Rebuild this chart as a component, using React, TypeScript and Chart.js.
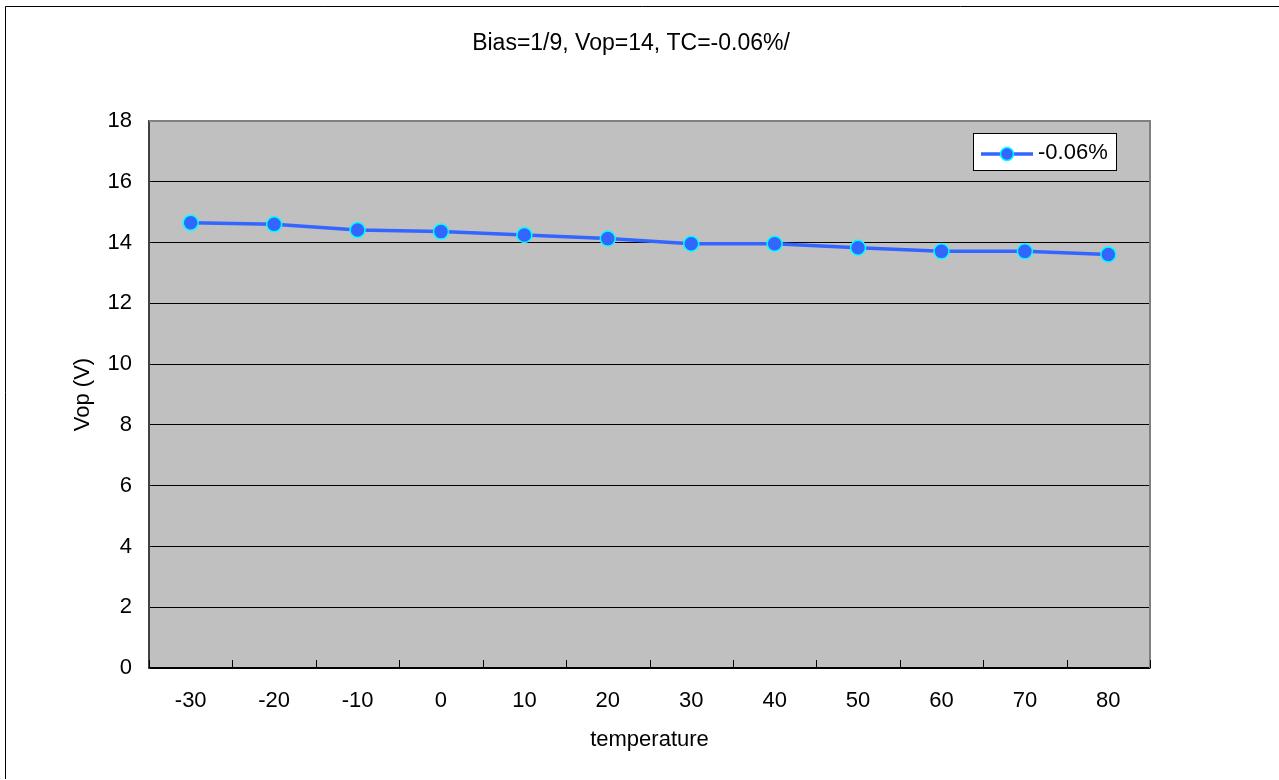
import React, { useEffect, useRef } from "react";
import { Chart, registerables } from "chart.js";

Chart.register(...registerables);

const categories = ["-30", "-20", "-10", "0", "10", "20", "30", "40", "50", "60", "70", "80"];
const vopValues = [14.65, 14.6, 14.41, 14.36, 14.25, 14.13, 13.96, 13.96, 13.83, 13.71, 13.71, 13.61];
const seriesLabel = "-0.06%";
const chartTitle = "Bias=1/9, Vop=14, TC=-0.06%/";
const yTitle = "Vop (V)";
const xTitle = "temperature";

const FONT = "'Liberation Sans', Arial, sans-serif";
const LINE = "#3366FF";
const EDGE = "#00FFFF";

const decorPlugin = {
  id: "decor",
  beforeDraw(chart: any) {
    const { ctx, chartArea } = chart;
    const { left, top, right, bottom } = chartArea;
    ctx.save();
    ctx.fillStyle = "#FFFFFF";
    ctx.fillRect(0, 0, chart.width, chart.height);
    ctx.fillStyle = "#C0C0C0";
    ctx.fillRect(left, top, right - left, bottom - top);
    ctx.strokeStyle = "#000000";
    ctx.lineWidth = 1;
    ctx.beginPath();
    ctx.moveTo(5.5, 779);
    ctx.lineTo(5.5, 6.5);
    ctx.lineTo(1279, 6.5);
    ctx.stroke();
    ctx.restore();
  },
  afterDraw(chart: any) {
    const { ctx, chartArea } = chart;
    const { left, top, right, bottom } = chartArea;
    ctx.save();
    ctx.strokeStyle = "#808080";
    ctx.lineWidth = 2;
    ctx.beginPath();
    ctx.moveTo(left, top);
    ctx.lineTo(right, top);
    ctx.lineTo(right, bottom);
    ctx.stroke();
    ctx.strokeStyle = "#000000";
    ctx.lineWidth = 1;
    const n = categories.length;
    for (let i = 0; i <= n; i++) {
      const x = Math.round(left + (i * (right - left)) / n) + 0.5;
      ctx.beginPath();
      ctx.moveTo(x, bottom);
      ctx.lineTo(x, bottom - 8);
      ctx.stroke();
    }
    ctx.fillStyle = "#000000";
    ctx.font = `23px ${FONT}`;
    ctx.textAlign = "center";
    ctx.textBaseline = "alphabetic";
    ctx.fillText(chartTitle, 631, 50);
    ctx.font = `22px ${FONT}`;
    ctx.textBaseline = "middle";
    ctx.fillText(xTitle, (left + right) / 2, 740);
    ctx.save();
    ctx.translate(83, (top + bottom) / 2);
    ctx.rotate(-Math.PI / 2);
    ctx.fillText(yTitle, 0, 0);
    ctx.restore();
    const lx = 973.5, ly = 133.5, lw = 143, lh = 37;
    ctx.fillStyle = "#FFFFFF";
    ctx.fillRect(lx, ly, lw, lh);
    ctx.strokeStyle = "#000000";
    ctx.lineWidth = 1;
    ctx.strokeRect(lx, ly, lw, lh);
    ctx.strokeStyle = LINE;
    ctx.lineWidth = 3.5;
    ctx.beginPath();
    ctx.moveTo(981, 154);
    ctx.lineTo(1033, 154);
    ctx.stroke();
    ctx.beginPath();
    ctx.arc(1007, 154, 6.5, 0, Math.PI * 2);
    ctx.fillStyle = LINE;
    ctx.fill();
    ctx.strokeStyle = EDGE;
    ctx.lineWidth = 1.5;
    ctx.stroke();
    ctx.fillStyle = "#000000";
    ctx.font = `22px ${FONT}`;
    ctx.textAlign = "left";
    ctx.textBaseline = "middle";
    ctx.fillText(seriesLabel, 1038, 153);
    ctx.restore();
  },
};

export default function App() {
  const ref = useRef<HTMLCanvasElement | null>(null);
  useEffect(() => {
    if (!ref.current) return;
    const chart = new Chart(ref.current, {
      type: "line",
      data: {
        labels: categories,
        datasets: [
          {
            label: seriesLabel,
            data: vopValues,
            borderColor: LINE,
            backgroundColor: LINE,
            borderWidth: 3.5,
            pointRadius: 7.5,
            pointBackgroundColor: LINE,
            pointBorderColor: EDGE,
            pointBorderWidth: 1.5,
            tension: 0,
          },
        ],
      },
      options: {
        responsive: false,
        animation: false,
        devicePixelRatio: 1,
        layout: { padding: { left: 0, top: 121, right: 129, bottom: 0 } },
        plugins: {
          legend: { display: false },
          title: { display: false },
          tooltip: { enabled: false },
        },
        scales: {
          x: {
            type: "category",
            offset: true,
            afterFit: (s: any) => {
              s.height = 112;
            },
            grid: { display: false, drawTicks: false, offset: true },
            border: { display: true, color: "#000000", width: 1.5 },
            ticks: {
              color: "#000000",
              font: { family: FONT, size: 22 },
              padding: 20,
              maxRotation: 0,
            },
          },
          y: {
            min: 0,
            max: 18,
            afterFit: (s: any) => {
              s.width = 149;
            },
            grid: {
              drawTicks: false,
              color: (c: any) => (c.tick && c.tick.value === 18 ? "#808080" : "#000000"),
              lineWidth: 1,
            },
            border: { display: true, color: "#404040", width: 2 },
            ticks: {
              stepSize: 2,
              color: "#000000",
              font: { family: FONT, size: 22 },
              padding: 17,
            },
          },
        },
      },
      plugins: [decorPlugin],
    });
    return () => chart.destroy();
  }, []);
  return (
    <canvas
      ref={ref}
      width={1279}
      height={780}
      style={{ position: "absolute", left: 0, top: 0, width: 1279, height: 780 }}
    />
  );
}
